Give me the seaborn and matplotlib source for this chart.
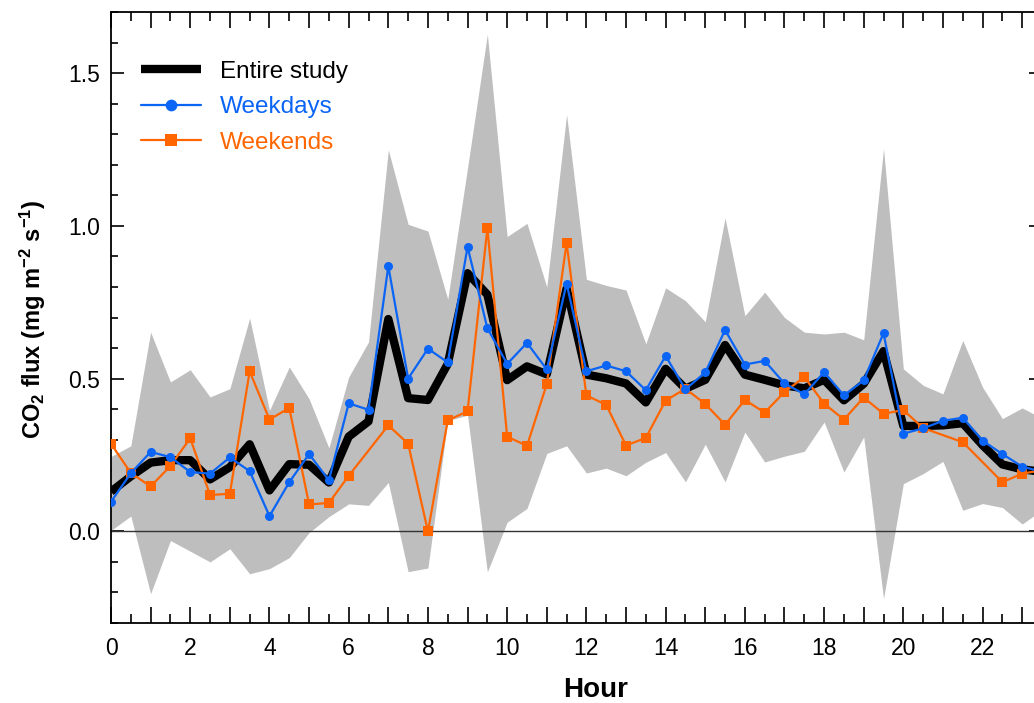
import numpy as np
import pandas as pd
import matplotlib
matplotlib.use("Agg")
import matplotlib.pyplot as plt
from matplotlib.ticker import MultipleLocator, FuncFormatter
import seaborn as sns

# Half-hourly time of day
hours = np.arange(0, 24, 0.5)

# Mean CO2 flux over the whole campaign (mg m-2 s-1)
entire_study = [0.13, 0.18, 0.225, 0.233, 0.233, 0.17, 0.21, 0.285, 0.134, 0.22,
                0.218, 0.16, 0.31, 0.36, 0.695, 0.436, 0.43, 0.548, 0.845, 0.775,
                0.495, 0.54, 0.514, 0.795, 0.513, 0.501, 0.484, 0.422, 0.532, 0.467,
                0.496, 0.61, 0.513, 0.496, 0.478, 0.468, 0.496, 0.429, 0.483, 0.59,
                0.345, 0.345, 0.347, 0.354, 0.282, 0.219, 0.203, 0.195]

# Weekday mean
weekdays = [0.097, 0.19, 0.26, 0.243, 0.194, 0.189, 0.242, 0.197, 0.05, 0.161,
            0.253, 0.167, 0.419, 0.398, 0.868, 0.5, 0.598, 0.553, 0.931, 0.665,
            0.548, 0.617, 0.53, 0.811, 0.524, 0.543, 0.524, 0.462, 0.574, 0.465,
            0.52, 0.659, 0.546, 0.558, 0.484, 0.449, 0.521, 0.445, 0.494, 0.649,
            0.32, 0.337, 0.362, 0.372, 0.297, 0.253, 0.212, 0.195]

# Weekend mean (NaN = no valid half-hour)
weekends = [0.287, 0.191, 0.147, 0.214, 0.305, 0.119, 0.123, 0.524, 0.366, 0.404,
            0.088, 0.093, 0.182, np.nan, 0.347, 0.287, 0.0, 0.363, 0.393, 0.992,
            0.31, 0.28, 0.482, 0.944, 0.445, 0.414, 0.281, 0.306, 0.428, 0.467,
            0.417, 0.349, 0.43, 0.389, 0.456, 0.505, 0.418, 0.366, 0.438, 0.385,
            0.397, 0.338, np.nan, 0.292, np.nan, 0.161, 0.189, 0.2]

# Spread of the whole-campaign flux (shaded envelope)
band_upper = [0.245, 0.28, 0.652, 0.489, 0.529, 0.44, 0.467, 0.698, 0.396, 0.538,
              0.434, 0.273, 0.505, 0.62, 1.249, 1.005, 0.983, 0.76, 1.19, 1.627,
              0.965, 1.008, 0.8, 1.364, 0.825, 0.805, 0.79, 0.614, 0.797, 0.755,
              0.686, 1.026, 0.706, 0.783, 0.70, 0.652, 0.646, 0.652, 0.627, 1.253,
              0.532, 0.478, 0.45, 0.625, 0.472, 0.369, 0.404, 0.37]
band_lower = [0.003, 0.05, -0.204, -0.03, -0.065, -0.1, -0.057, -0.139, -0.122, -0.086,
              -0.004, 0.048, 0.09, 0.085, 0.16, -0.132, -0.12, 0.363, 0.38, -0.133,
              0.03, 0.075, 0.255, 0.28, 0.191, 0.207, 0.182, 0.226, 0.258, 0.162,
              0.285, 0.162, 0.325, 0.227, 0.246, 0.262, 0.358, 0.194, 0.309, -0.22,
              0.156, 0.189, 0.229, 0.069, 0.091, 0.078, 0.024, 0.07]

BLUE = "#0A64F5"
ORANGE = "#FF6600"
BAND = "#BEBEBE"

sns.set_theme(style="ticks")
plt.rcParams["font.family"] = ["Liberation Sans", "DejaVu Sans"]
plt.rcParams["mathtext.default"] = "regular"
plt.rcParams["text.color"] = "black"
plt.rcParams["axes.labelcolor"] = "black"

df = pd.DataFrame({"hour": hours, "entire": entire_study,
                   "weekdays": weekdays, "weekends": weekends})

fig = plt.figure(figsize=(10.34, 7.03), dpi=100)
# axes run slightly past the right border of the figure (last half-hour cut off)
ax = fig.add_axes([111 / 1034, 80 / 703, 931 / 1034, 611 / 703])

ax.fill_between(hours, band_lower, band_upper, color=BAND, lw=0, zorder=1)
ax.axhline(0, color="#333333", lw=1.0, zorder=1.5)

sns.lineplot(data=df.dropna(subset=["entire"]), x="hour", y="entire", ax=ax,
             color="black", lw=6, estimator=None, sort=False,
             solid_capstyle="butt", label="Entire study", zorder=3)
sns.lineplot(data=df.dropna(subset=["weekends"]), x="hour", y="weekends", ax=ax,
             color=ORANGE, lw=1.6, marker="s", markersize=7, markeredgewidth=0,
             estimator=None, sort=False, label="Weekends", zorder=4)
sns.lineplot(data=df.dropna(subset=["weekdays"]), x="hour", y="weekdays", ax=ax,
             color=BLUE, lw=1.6, marker="o", markersize=6.5, markeredgewidth=0,
             estimator=None, sort=False, label="Weekdays", zorder=5)

ax.set_xlim(0, 23.5)
ax.set_ylim(-0.3, 1.7)

ax.xaxis.set_major_locator(MultipleLocator(1))
ax.xaxis.set_minor_locator(MultipleLocator(0.5))
ax.xaxis.set_major_formatter(FuncFormatter(
    lambda v, p: f"{int(round(v))}" if int(round(v)) % 2 == 0 else ""))
ax.yaxis.set_major_locator(MultipleLocator(0.5))
ax.yaxis.set_minor_locator(MultipleLocator(0.1))
ax.yaxis.set_major_formatter(FuncFormatter(lambda v, p: f"{v:.1f}"))

ax.tick_params(which="both", direction="in", top=True, right=True,
               width=1.2, color="black", labelcolor="black")
ax.tick_params(axis="x", which="major", length=11.5, labelsize=16.5, pad=10)
ax.tick_params(axis="x", which="minor", length=6.5)
ax.tick_params(axis="y", which="major", length=9.5, labelsize=16.5, pad=8)
ax.tick_params(axis="y", which="minor", length=5)
for sp in ax.spines.values():
    sp.set_linewidth(1.3)
    sp.set_color("black")

ax.set_xlabel("Hour", fontsize=20, fontweight="bold", color="black")
ax.xaxis.set_label_coords(0.52, -0.088)
ax.set_ylabel(r"CO$_2$ flux (mg m$^{-2}$ s$^{-1}$)", fontsize=17,
              fontweight="bold", color="black")
ax.yaxis.set_label_coords(-0.068, 0.4975)

handles, labels = ax.get_legend_handles_labels()
order = [labels.index(n) for n in ["Entire study", "Weekdays", "Weekends"]]
leg = ax.legend([handles[i] for i in order], [labels[i] for i in order],
                loc="upper left", bbox_to_anchor=(131 / 1034, 1 - 51 / 703),
                bbox_transform=fig.transFigure, frameon=False, fontsize=17.5,
                handlelength=2.47, handletextpad=0.78, labelspacing=0.56,
                borderaxespad=0, markerscale=1.3)
for txt, col in zip(leg.get_texts(), ["black", BLUE, ORANGE]):
    txt.set_color(col)

fig.savefig("out.png", dpi=100)
